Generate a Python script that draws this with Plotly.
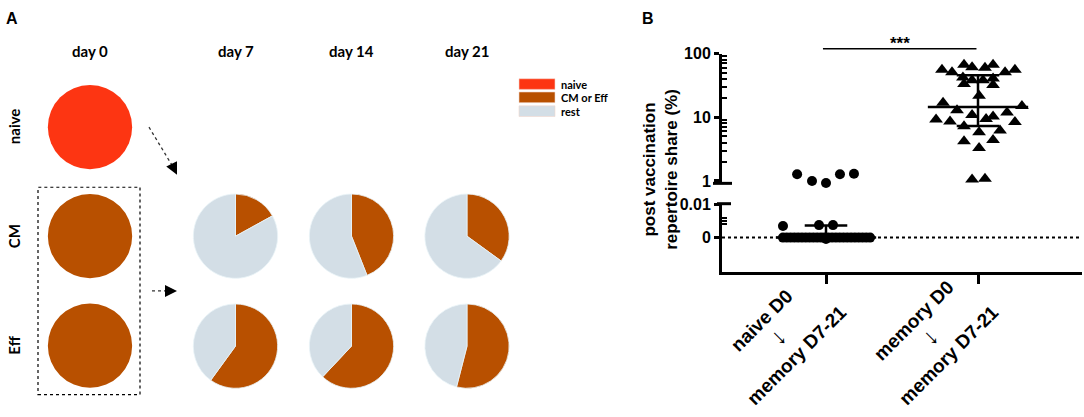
import plotly.graph_objects as go

W, H = 1084, 417


def PX(x):
    return x / W


def PY(y):
    return 1 - y / H


# ---------------- Panel A data ----------------
days = ["day 0", "day 7", "day 14", "day 21"]
rows = ["naive", "CM", "Eff"]
slice_labels = ["naive", "CM or Eff", "rest"]
cm_row_share = [17, 44, 35]     # % "CM or Eff" at day 7 / 14 / 21, CM row
eff_row_share = [60, 62, 54]    # % "CM or Eff" at day 7 / 14 / 21, Eff row
slice_colors = ["#FD3512", "#B85000", "#D3DEE6"]

# ---------------- Panel B data ----------------
group_top = ["naive D0", "memory D0"]
group_bottom = ["memory D7-21", "memory D7-21"]

# naive D0 -> memory D7-21 (circles), jitter in category units
naive_hi_jit = [-0.19, -0.092, 0.0, 0.092, 0.184]
naive_hi_val = [1.27, 1.0, 0.93, 1.27, 1.3]
naive_lo_jit = [-0.283, -0.046, 0.046]
naive_lo_val = [0.0035, 0.0038, 0.0038]
naive_zero_jit = [-0.283, -0.258, -0.233, -0.208, -0.183, -0.158, -0.133, -0.108,
                  -0.083, -0.058, -0.033, -0.01, 0.0, 0.015, 0.04, 0.065, 0.09,
                  0.115, 0.14, 0.165, 0.19, 0.215, 0.24, 0.265, 0.29]
naive_zero_val = [0.0] * 12 + [-0.0004] + [0.0] * 12
naive_median, naive_q1, naive_q3 = 0.0, 0.0, 0.0037

# memory D0 -> memory D7-21 (triangles)
mem_jit = [-0.237, -0.171, -0.092, -0.039, 0.046, 0.099, 0.178, 0.243,
           -0.099, -0.039, 0.033, 0.099, -0.092, 0.099, 0.007,
           -0.230, 0.289, -0.138, -0.039, 0.053, 0.099, 0.191, -0.276,
           -0.184, -0.092, 0.243, 0.145, 0.007, -0.092, 0.099, 0.007,
           -0.039, 0.046]
mem_val = [55.5, 51, 66.8, 60.8, 59.6, 66.8, 51, 55.5,
           42, 38.2, 38.2, 40.5, 33.2, 32, 21.8,
           16.9, 15, 12.9, 10.8, 9.4, 10.3, 11.9, 9.2,
           8.6, 7.2, 8.4, 6.2, 5.8, 4.2, 4.4, 3.3,
           1.05, 1.08]
mem_median, mem_q1, mem_q3 = 14.5, 7.3, 45.5

fig = go.Figure()

# ---------------- Panel A: pies ----------------
R = 43.5
pie_specs = []  # (values, cx, cy)
pie_specs.append(([100, 0, 0], 90, 123))
pie_specs.append(([0, 100, 0], 90, 235.5))
pie_specs.append(([0, 100, 0], 90, 348.5))
col_x = [235.5, 351.5, 467]
for i, s in enumerate(cm_row_share):
    pie_specs.append(([0, s, 100 - s], col_x[i], 235.5))
for i, s in enumerate(eff_row_share):
    pie_specs.append(([0, s, 100 - s], col_x[i], 349))

for vals, cx, cy in pie_specs:
    full = max(vals) == 100
    fig.add_trace(go.Pie(
        labels=slice_labels, values=vals, sort=False, direction="clockwise",
        rotation=0, textinfo="none", showlegend=False,
        marker=dict(colors=slice_colors,
                    line=dict(color="#EAF4F8", width=0 if full else 0.8)),
        domain=dict(x=[PX(cx - R), PX(cx + R)], y=[PY(cy + R), PY(cy - R)]),
    ))

afont = dict(family="Lato", size=15, color="black")
annotations = []


def txt(text, x, y, font, **kw):
    d = dict(text=text, x=x, y=y, xref="paper", yref="paper", showarrow=False,
             xanchor="center", yanchor="middle", font=font)
    d.update(kw)
    annotations.append(d)


txt("<b>A</b>", PX(12), PY(11), dict(family="Liberation Sans", size=16, color="black"))
header_x = [90, 235.5, 351.5, 467]
for d, hx in zip(days, header_x):
    txt(f"<b>{d}</b>", PX(hx), PY(44), afont)
row_y = [122, 235.5, 348.5]
for r, ry in zip(rows, row_y):
    txt(f"<b>{r}</b>", PX(14), PY(ry), afont, textangle=-90)

# legend
leg_y = [78.5, 92.2, 106.5]
shapes = []
for lab, col, ly in zip(slice_labels, slice_colors, leg_y):
    shapes.append(dict(type="rect", xref="paper", yref="paper",
                       x0=PX(519), x1=PX(555), y0=PY(ly + 5.5), y1=PY(ly - 5.5),
                       fillcolor=col, line=dict(color="#F4D8CF", width=0.6)))
    txt(f"<b>{lab}</b>", PX(559), PY(ly), dict(family="Lato", size=11, color="black"),
        xanchor="left")

# dashed box around CM/Eff day 0
shapes.append(dict(type="rect", xref="paper", yref="paper", x0=PX(38), x1=PX(140),
                   y0=PY(399), y1=PY(185), line=dict(color="black", width=1.2, dash="dot")))
# dotted arrows
shapes.append(dict(type="line", xref="paper", yref="paper", x0=PX(149), y0=PY(123),
                   x1=PX(173), y1=PY(164), line=dict(color="#333", width=1.3, dash="dot")))
annotations.append(dict(x=PX(177), y=PY(172), ax=-4, ay=-8, xref="paper", yref="paper",
                        showarrow=True, arrowhead=2, arrowsize=1.6, arrowwidth=1.5,
                        arrowcolor="black", text=""))
shapes.append(dict(type="line", xref="paper", yref="paper", x0=PX(152), y0=PY(292),
                   x1=PX(169), y1=PY(292), line=dict(color="#333", width=1.3, dash="dot")))
annotations.append(dict(x=PX(177), y=PY(292), ax=-8, ay=0, xref="paper", yref="paper",
                        showarrow=True, arrowhead=2, arrowsize=1.6, arrowwidth=1.5,
                        arrowcolor="black", text=""))

# ---------------- Panel B ----------------
fig.add_trace(go.Scatter(x=[0 + j for j in naive_hi_jit], y=naive_hi_val, mode="markers",
                         xaxis="x", yaxis="y2", showlegend=False, cliponaxis=False,
                         marker=dict(symbol="circle", size=10, color="black")))
fig.add_trace(go.Scatter(x=[0 + j for j in naive_lo_jit + naive_zero_jit],
                         y=naive_lo_val + naive_zero_val, mode="markers",
                         xaxis="x", yaxis="y", showlegend=False, cliponaxis=False,
                         marker=dict(symbol="circle", size=10, color="black")))
fig.add_trace(go.Scatter(x=[1 + j for j in mem_jit], y=mem_val, mode="markers",
                         xaxis="x", yaxis="y2", showlegend=False, cliponaxis=False,
                         marker=dict(symbol="triangle-up", size=12, color="black")))

MW, QW = 0.33, 0.14
lw = dict(color="black", width=2.5)
fig.add_trace(go.Scatter(x=[-MW, MW], y=[naive_median] * 2, mode="lines", line=lw,
                         xaxis="x", yaxis="y", showlegend=False, cliponaxis=False))
fig.add_trace(go.Scatter(x=[-QW, QW, None, 0, 0], y=[naive_q3, naive_q3, None, naive_q1, naive_q3],
                         mode="lines", line=lw, xaxis="x", yaxis="y", showlegend=False,
                         cliponaxis=False))
fig.add_trace(go.Scatter(x=[1 - MW, 1 + MW], y=[mem_median] * 2, mode="lines", line=lw,
                         xaxis="x", yaxis="y2", showlegend=False, cliponaxis=False))
fig.add_trace(go.Scatter(x=[1 - QW, 1 + QW, None, 1 - QW, 1 + QW, None, 1, 1],
                         y=[mem_q3, mem_q3, None, mem_q1, mem_q1, None, mem_q1, mem_q3],
                         mode="lines", line=lw, xaxis="x", yaxis="y2",
                         showlegend=False, cliponaxis=False))

tfont = dict(family="Liberation Sans", size=16, color="black")
ax_left, ax_right = 722, 1082
lower_top, lower_bot = 202, 273
upper_top, upper_bot = 47, 182
zero_py, cent_py = 237, 203
per_unit = (zero_py - cent_py) / 0.01
low_range = [-(lower_bot - zero_py) / per_unit, (zero_py - lower_top) / per_unit]
dec_px = 65.75
up_range = [2 - (upper_bot - upper_top) / dec_px, 2]
x_px_per_unit = 152.0
x_range = [-(826 - ax_left) / x_px_per_unit, 1 + (ax_right - 978) / x_px_per_unit]

fig.update_layout(
    width=W, height=H, margin=dict(l=0, r=0, t=0, b=0),
    paper_bgcolor="white", plot_bgcolor="white",
    xaxis=dict(domain=[PX(ax_left), PX(ax_right)], range=x_range,
               anchor="y", showgrid=False, zeroline=False, showline=True,
               linecolor="black", linewidth=3, ticks="outside", ticklen=9, tickwidth=3,
               tickcolor="black", tickvals=[0, 1], showticklabels=False),
    yaxis=dict(domain=[PY(lower_bot), PY(lower_top)], range=low_range, anchor="x",
               showgrid=False, zeroline=False, showline=True, linecolor="black",
               linewidth=3, ticks="outside", ticklen=5, tickwidth=3, tickcolor="black",
               tickvals=[0, 0.01], ticktext=["<b>0</b>", "<b>0.01</b>"], tickfont=tfont,
               minor=dict(tickvals=[0.004, 0.005, 0.006], ticks="inside", ticklen=5,
                          tickwidth=2, tickcolor="black")),
    yaxis2=dict(domain=[PY(upper_bot), PY(upper_top)], type="log", range=up_range,
                anchor="x", showgrid=False, zeroline=False, showline=True,
                linecolor="black", linewidth=3, ticks="outside", ticklen=5, tickwidth=3,
                tickcolor="black", tickvals=[1, 10, 100],
                ticktext=["<b>1</b>", "<b>10</b>", "<b>100</b>"], tickfont=tfont,
                minor=dict(tickvals=[2, 3, 4, 5, 6, 7, 8, 9, 20, 30, 40, 50, 60, 70, 80, 90],
                           ticks="inside", ticklen=5, tickwidth=2, tickcolor="black")),
)

shapes.append(dict(type="line", xref="paper", yref="y", x0=PX(ax_left), x1=PX(ax_right),
                   y0=0, y1=0, line=dict(color="black", width=2, dash="dot"), layer="below"))
shapes.append(dict(type="line", xref="paper", yref="paper", x0=PX(713), x1=PX(732),
                   y0=PY(181), y1=PY(181), line=dict(color="black", width=3)))
shapes.append(dict(type="line", xref="paper", yref="paper", x0=PX(717), x1=PX(731),
                   y0=PY(202), y1=PY(202), line=dict(color="black", width=3)))
shapes.append(dict(type="line", xref="x", yref="paper", x0=-0.02, x1=0.99,
                   y0=PY(42), y1=PY(42), line=dict(color="black", width=1.5)))
txt("<b>***</b>", 0.49, PY(37), dict(family="Liberation Sans", size=17, color="black"),
    xref="x")
txt("<b>B</b>", PX(648), PY(11), dict(family="Liberation Sans", size=16, color="black"))
txt("<b>post vaccination</b><br><b>repertoire share (%)</b>", PX(661), PY(167),
    dict(family="Liberation Sans", size=17, color="black"), textangle=-90)
for i, (top, bot) in enumerate(zip(group_top, group_bottom)):
    lab = (f"<b>{top}</b><br><span style='font-size:24px'>↓</span><br><b>{bot}</b>")
    txt(lab, i, PY(341), dict(family="Liberation Sans", size=19, color="black"),
        xref="x", xshift=-47, textangle=-45)

fig.update_layout(shapes=shapes, annotations=annotations)
# the page body has a default 8px margin; remove it so the figure sits at the page origin
fig.write_html("out.html", config={"displayModeBar": False},
               post_script="document.body.style.margin='0px';")
